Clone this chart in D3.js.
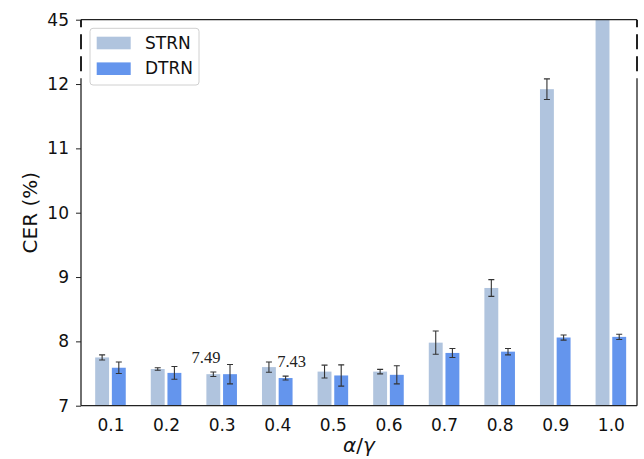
<!DOCTYPE html>
<html>
<head>
<meta charset="utf-8">
<script src="https://cdn.jsdelivr.net/npm/d3@7"></script>
<style>
  body { margin: 0; background: #fff; }
  text { font-family: "DejaVu Sans", sans-serif; }
  text.note { font-family: "Liberation Serif", "DejaVu Serif", serif; }
</style>
</head>
<body>
<div id="chart"></div>
<script>
// data
const categories = ["0.1", "0.2", "0.3", "0.4", "0.5", "0.6", "0.7", "0.8", "0.9", "1.0"];
const strnMean = [7.75, 7.57, 7.49, 7.60, 7.53, 7.53, 7.98, 8.83, 11.92, 45];
const strnErr = [0.04, 0.02, 0.035, 0.08, 0.10, 0.035, 0.18, 0.13, 0.16, 0.5];
const dtrnMean = [7.59, 7.51, 7.49, 7.43, 7.47, 7.48, 7.82, 7.84, 8.06, 8.07];
const dtrnErr = [0.09, 0.10, 0.15, 0.03, 0.165, 0.14, 0.07, 0.05, 0.04, 0.04];
const yTicks = [7, 8, 9, 10, 11, 12, 13];
const yTickLabels = ["7", "8", "9", "10", "11", "12", "45"];
const annoCats = ["0.3", "0.4"];
const annoVals = [7.49, 7.43];

const width = 644, height = 459;
const mLeft = 81, mRight = 637, mTop = 19.7, mBottom = 405.7;
const annoDx = [-24, 6]; // label shift from the DTRN bar centre

const svg = d3.select("#chart").append("svg").attr("width", width).attr("height", height);

// index scale: each category one unit wide
const x = d3.scaleLinear().domain([-0.53, 9.47]).range([mLeft, mRight]);
const y = d3.scaleLinear().domain([7, 13]).range([mBottom, mTop]).clamp(true);
const unit = x(1) - x(0);
const barW = 0.25 * unit, off = 0.15 * unit;

svg.append("clipPath").attr("id", "plot")
  .append("rect").attr("x", mLeft).attr("y", mTop).attr("width", mRight - mLeft).attr("height", mBottom - mTop);

const plot = svg.append("g").attr("clip-path", "url(#plot)");

const series = [
  { name: "STRN", mean: strnMean, err: strnErr, color: "#b0c4de", shift: -off },
  { name: "DTRN", mean: dtrnMean, err: dtrnErr, color: "#6495ed", shift: off }
];

series.forEach(s => {
  plot.selectAll(null).data(categories).join("rect")
    .attr("x", (d, i) => x(i) + s.shift - barW / 2)
    .attr("y", (d, i) => y(s.mean[i]))
    .attr("width", barW)
    .attr("height", (d, i) => mBottom - y(s.mean[i]))
    .attr("fill", s.color);
});

// error bars (the clipped 1.0 STRN bar has none visible)
series.forEach(s => {
  const idx = d3.range(categories.length).filter(i => s.mean[i] + s.err[i] < 13);
  const g = plot.selectAll(null).data(idx).join("g")
    .attr("stroke", "#333").attr("stroke-width", 1.1);
  g.append("line")
    .attr("x1", i => x(i) + s.shift)
    .attr("x2", i => x(i) + s.shift)
    .attr("y1", i => y(s.mean[i] - s.err[i]))
    .attr("y2", i => y(s.mean[i] + s.err[i]));
  [-1, 1].forEach(sign => {
    g.append("line")
      .attr("x1", i => x(i) + s.shift - 3)
      .attr("x2", i => x(i) + s.shift + 3)
      .attr("y1", i => y(s.mean[i] + sign * s.err[i]))
      .attr("y2", i => y(s.mean[i] + sign * s.err[i]));
  });
});

// value notes
svg.selectAll(null).data(annoCats).join("text")
  .attr("class", "note")
  .attr("x", (d, i) => x(categories.indexOf(d)) + off + annoDx[i])
  .attr("y", (d, i) => y(annoVals[i]) - 11)
  .attr("text-anchor", "middle")
  .style("font-size", "16.5px")
  .attr("fill", "#222")
  .text((d, i) => annoVals[i].toFixed(2));

// axes
const yAxis = svg.append("g").attr("transform", `translate(${mLeft},0)`)
  .call(d3.axisLeft(y).tickValues(yTicks).tickFormat((d, i) => yTickLabels[i]).tickSize(5).tickPadding(7).tickSizeOuter(0));
yAxis.select(".domain").remove();
yAxis.selectAll("line").attr("stroke", "#222");
yAxis.selectAll("text").style("font-size", "17px").attr("fill", "#111").style("font-family", "'DejaVu Sans'");

const xAxis = svg.append("g").attr("transform", `translate(0,${mBottom})`)
  .call(d3.axisBottom(x).tickValues(d3.range(categories.length)).tickFormat(i => categories[i]).tickSize(0).tickPadding(13.5));
xAxis.select(".domain").remove();
xAxis.selectAll("text").style("font-size", "17px").attr("fill", "#111").style("font-family", "'DejaVu Sans'");

// spines with the broken part dashed
const spine = svg.append("g").attr("stroke", "#222").attr("stroke-width", 1.3).attr("fill", "none");
const brk = 12.09;
spine.append("line").attr("x1", mLeft).attr("x2", mRight).attr("y1", mBottom).attr("y2", mBottom);
spine.append("line").attr("x1", mLeft).attr("x2", mRight).attr("y1", mTop).attr("y2", mTop);
[mLeft, mRight].forEach(px => {
  spine.append("line").attr("x1", px).attr("x2", px).attr("y1", mBottom).attr("y2", y(brk));
  spine.append("line").attr("x1", px).attr("x2", px).attr("y1", y(brk)).attr("y2", mTop)
    .attr("stroke-width", 2).attr("stroke-dasharray", "15 7").attr("stroke-dashoffset", 15);
});

// axis titles
svg.append("text")
  .attr("transform", `translate(37,${(mTop + mBottom) / 2}) rotate(-90)`)
  .attr("text-anchor", "middle")
  .style("font-size", "20px").attr("fill", "#111")
  .text("CER (%)");

const xl = svg.append("text").attr("x", (mLeft + mRight) / 2).attr("y", 452)
  .attr("text-anchor", "middle").style("font-size", "20px").attr("fill", "#111");
xl.append("tspan").style("font-style", "italic").text("α");
xl.append("tspan").text("/");
xl.append("tspan").style("font-style", "italic").text("γ");

// legend
const legend = svg.append("g");
legend.append("rect").attr("x", 90).attr("y", 28.3).attr("width", 109).attr("height", 56.7)
  .attr("rx", 3).attr("fill", "#fff").attr("fill-opacity", 0.8).attr("stroke", "#d0d0d0");
series.forEach((s, i) => {
  legend.append("rect").attr("x", 96.7).attr("y", 36.7 + i * 25.7).attr("width", 34).attr("height", 12.6).attr("fill", s.color);
  legend.append("text").attr("x", 145).attr("y", 48.5 + i * 25.7)
    .style("font-size", "17px").attr("fill", "#111").text(s.name);
});
</script>
</body>
</html>
